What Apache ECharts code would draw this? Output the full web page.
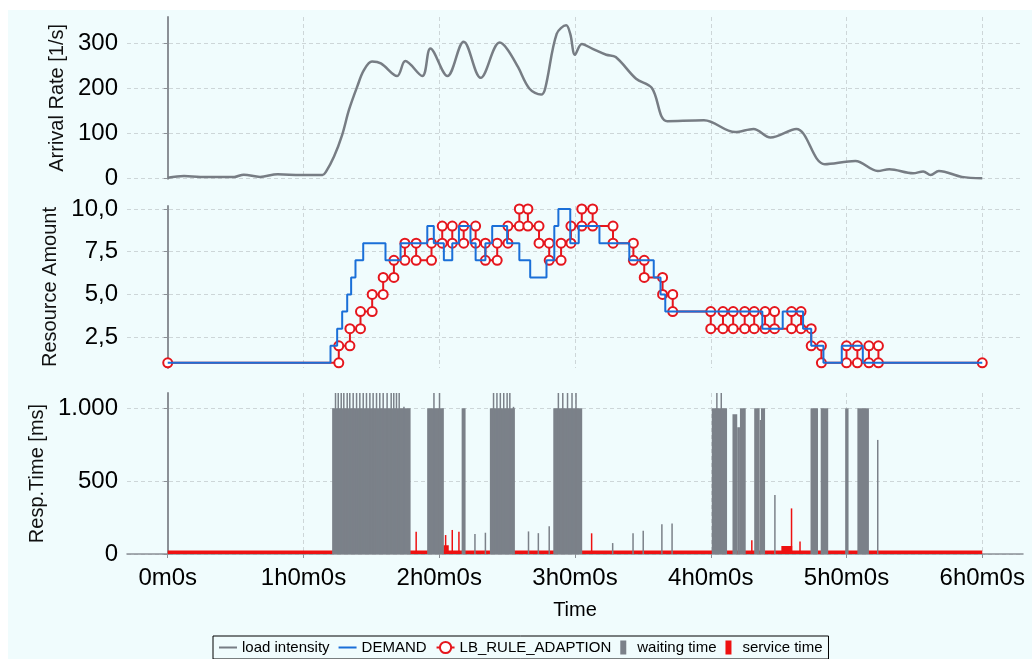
<!DOCTYPE html>
<html><head><meta charset="utf-8">
<script src="https://cdn.jsdelivr.net/npm/echarts@6/dist/echarts.min.js"></script>
<style>html,body{margin:0;padding:0;background:#fff;} #c{width:1032px;height:659px;}</style>
</head><body><div id="c"></div>
<script>
// ---- tick labels ----
const hourTicks = [0, 1, 2, 3, 4, 5, 6];
const arrivalTicks = [0, 100, 200, 300];
const resourceTicks = [2.5, 5, 7.5, 10];
const respTicks = [0, 500, 1000];

// ---- load intensity (hours, 1/s) ----
const loadTimes  = [0, 0.12, 0.24, 0.36, 0.49, 0.56, 0.68, 0.81, 0.98, 1.14, 1.165, 1.225, 1.285, 1.335, 1.395, 1.445, 1.505, 1.57, 1.69, 1.75, 1.875, 1.935, 2.06, 2.18, 2.305, 2.445, 2.50, 2.58, 2.665, 2.75, 2.78, 2.865, 2.935, 2.965, 3.0, 3.05, 3.13, 3.23, 3.30, 3.45, 3.565, 3.68, 3.95, 4.18, 4.315, 4.44, 4.63, 4.84, 5.065, 5.23, 5.315, 5.49, 5.565, 5.62, 5.68, 5.85, 6.0];
const loadValues = [2, 6, 4, 4, 4, 9, 4, 10, 8, 8, 15, 49, 97, 152, 203, 240, 259, 255, 227, 260, 227, 288, 227, 303, 223, 301, 287, 247, 199, 186, 199, 320, 339, 320, 274, 298, 287, 274, 269, 221, 201, 127, 129, 103, 110, 91, 110, 32, 39, 17, 21, 12, 16, 8, 17, 4, 1];

// ---- DEMAND (change time in hours, new amount) ----
const demandTimes  = [0, 1.199, 1.248, 1.285, 1.322, 1.351, 1.383, 1.44, 1.604, 1.715, 1.912, 1.96, 2.034, 2.096, 2.145, 2.23, 2.268, 2.34, 2.39, 2.5, 2.59, 2.67, 2.79, 2.8475, 2.8775, 2.965, 3.0275, 3.18, 3.4, 3.58, 3.63, 3.665, 4.38, 4.53, 4.68, 4.74, 4.83, 4.965, 5.12, 6.0];
const demandValues = [1, 2, 3, 4, 5, 6, 7, 8, 7, 8, 9, 8, 7, 8, 9, 8, 7, 8, 9, 8, 7, 6, 7, 9, 10, 8, 9, 8, 7, 6, 5, 4, 3, 4, 3, 2, 1, 2, 1, 1];

// ---- LB_RULE_ADAPTION (adaption time in hours, new amount) ----
const adaptTimes  = [0, 1.26, 1.342, 1.42, 1.506, 1.587, 1.666, 1.747, 1.83, 1.943, 2.022, 2.096, 2.18, 2.268, 2.34, 2.427, 2.506, 2.59, 2.653, 2.735, 2.81, 2.8975, 2.97, 3.05, 3.13, 3.28, 3.43, 3.51, 3.645, 3.72, 4.0, 4.09, 4.165, 4.25, 4.32, 4.40, 4.47, 4.595, 4.665, 4.74, 4.815, 5.0, 5.08, 5.165, 5.235];
const adaptValues = [1, 2, 3, 4, 5, 6, 7, 8, 7, 8, 9, 8, 9, 8, 7, 8, 9, 10, 9, 8, 7, 8, 9, 10, 9, 8, 7, 6, 5, 4, 3, 4, 3, 4, 3, 4, 3, 4, 3, 2, 1, 2, 1, 2, 1];
const adaptEnd = 6.0;

// ---- waiting time blocks (hours start, hours end, ms) ----
const waitStart  = [1.211, 1.911, 2.165, 2.373, 2.84, 4.0075, 4.16, 4.195, 4.215, 4.32, 4.36, 4.37, 4.735, 4.81, 4.99, 5.08];
const waitEnd    = [1.789, 2.034, 2.194, 2.557, 3.053, 4.12, 4.195, 4.215, 4.2575, 4.36, 4.37, 4.40, 4.79, 4.865, 5.015, 5.165];
const waitHeight = [1000, 1000, 1000, 1000, 1000, 1000, 960, 870, 1000, 1000, 920, 1000, 1000, 1000, 1000, 1000];
// single waiting-time samples (hours, ms)
const waitSpikeTimes  = [1.236, 1.256, 1.278, 1.297, 1.322, 1.341, 1.366, 1.391, 1.415, 1.44, 1.464, 1.489, 1.513, 1.538, 1.562, 1.587, 1.616, 1.646, 1.665, 1.685, 1.705, 1.74, 1.961, 2.002, 2.263, 2.34, 2.40, 2.425, 2.45, 2.475, 2.50, 2.52, 2.547, 2.6575, 2.73, 2.81, 2.8775, 2.91, 2.945, 2.978, 3.0075, 3.2775, 3.4275, 3.5025, 3.64, 3.715, 4.045, 4.0775, 4.4725, 5.23];
const waitSpikeValues = [1200, 1200, 1200, 1200, 1200, 1200, 1200, 1200, 1200, 1200, 1200, 1200, 1200, 1200, 1200, 1200, 1200, 1200, 1200, 1200, 1200, 1010, 1200, 1200, 137, 146, 1200, 1200, 1200, 1200, 1200, 1200, 1010, 155, 143, 190, 1200, 1200, 1200, 1200, 1200, 75, 142, 160, 205, 210, 1200, 1200, 405, 783];

// ---- service time (hours start, hours end, ms) ----
const serviceStart  = [0, 2.03, 4.52];
const serviceEnd    = [6.0, 2.07, 4.60];
const serviceHeight = [24, 60, 55];
const serviceSpikeTimes  = [1.83, 2.047, 2.096, 2.145, 3.1225, 4.3025, 4.595, 4.6575];
const serviceSpikeValues = [153, 130, 165, 153, 142, 95, 313, 85];

// ---- build series data ----
const loadData = loadTimes.map((t, i) => [t, loadValues[i]]);
const demandData = demandTimes.map((t, i) => [t, demandValues[i]]);
const adaptData = [];
adaptTimes.forEach((t, i) => {
  if (i > 0) adaptData.push([t, adaptValues[i - 1]]);
  adaptData.push([t, adaptValues[i]]);
});
adaptData.push([adaptEnd, adaptValues[adaptValues.length - 1]]);
const waitBlocks = waitStart.map((s, i) => [s, waitEnd[i], waitHeight[i]]);
const waitSpikes = waitSpikeTimes.map((t, i) => [t, waitSpikeValues[i]]);
const serviceBlocks = serviceStart.map((s, i) => [s, serviceEnd[i], serviceHeight[i]]);
const serviceSpikes = serviceSpikeTimes.map((t, i) => [t, serviceSpikeValues[i]]);

function clipToGrid(r, cs) {
  return echarts.graphic.clipRectByRect(r, {x: cs.x, y: cs.y, width: cs.width, height: cs.height});
}
function blockRender(params, api) {
  const a = api.coord([api.value(0), api.value(2)]);
  const b = api.coord([api.value(1), 0]);
  const r = clipToGrid({x: a[0], y: a[1], width: Math.max(b[0] - a[0], 1), height: b[1] - a[1]}, params.coordSys);
  return r && {type: 'rect', shape: r, style: api.style()};
}
function spikeRender(params, api) {
  const a = api.coord([api.value(0), api.value(1)]);
  const b = api.coord([api.value(0), 0]);
  const r = clipToGrid({x: a[0] - 0.75, y: a[1], width: 1.5, height: b[1] - a[1]}, params.coordSys);
  return r && {type: 'rect', shape: r, style: api.style()};
}

const FONT = 'Liberation Sans, Arial, sans-serif';
const GRIDC = '#cdd6d8';
const AXISC = '#8b9096';
const hourLabel = v => v === 0 ? '0m0s' : v + 'h0m0s';

function xAxisFor(idx, showLabels) {
  return {
    type: 'value', gridIndex: idx, min: -0.3, max: 6.3,
    axisLine: {show: showLabels, lineStyle: {color: AXISC, width: 1.5}},
    axisTick: {show: showLabels, customValues: hourTicks, length: 4, lineStyle: {color: AXISC}},
    axisLabel: {show: showLabels, customValues: hourTicks, formatter: hourLabel, fontSize: 24, color: '#000', fontFamily: FONT, margin: 12},
    splitLine: {show: true, lineStyle: {color: GRIDC, type: [4, 3], width: 1}},
    name: showLabels ? 'Time' : '', nameLocation: 'middle', nameGap: 46,
    nameTextStyle: {fontSize: 20, color: '#000', fontFamily: FONT}
  };
}
function yAxisFor(idx, min, max, ticks, fmt, name, gap) {
  return {
    type: 'value', gridIndex: idx, min: min, max: max,
    axisLine: {show: true, lineStyle: {color: AXISC, width: 2}},
    axisTick: {show: true, customValues: ticks, length: 4, lineStyle: {color: AXISC}},
    axisLabel: {customValues: ticks, formatter: fmt, fontSize: 24, color: '#000', fontFamily: FONT, margin: 9},
    splitLine: {show: true, lineStyle: {color: GRIDC, type: [4, 3], width: 1}},
    name: name, nameLocation: 'middle', nameGap: gap,
    nameTextStyle: {fontSize: 20, color: '#111', fontFamily: FONT}
  };
}

const LINE_ICON = 'path://M0,0h18v2h-18z';
const BAR_ICON = 'path://M0,0h6v14h-6z';

const chart = echarts.init(document.getElementById('c'), null, {renderer: 'canvas'});
chart.setOption({
  animation: false,
  backgroundColor: '#ffffff',
  graphic: [{type: 'rect', z: -100, silent: true, shape: {x: 8, y: 10, width: 1024, height: 649}, style: {fill: '#f0fcfd'}}],
  grid: [
    {left: 127, width: 896, top: 17, height: 161.7},
    {left: 127, width: 896, top: 206, height: 162},
    {left: 127, width: 896, top: 393, height: 161}
  ],
  xAxis: [xAxisFor(0, false), xAxisFor(1, false), xAxisFor(2, true)],
  yAxis: [
    yAxisFor(0, 0, 357.5, arrivalTicks, v => String(v), 'Arrival Rate [1/s]', 53),
    yAxisFor(1, 0.70, 10.175, resourceTicks, v => v.toFixed(1).replace('.', ','), 'Resource Amount', 60),
    yAxisFor(2, 0, 1105, respTicks, v => String(v).replace(/\B(?=(\d{3})+(?!\d))/g, '.'), 'Resp.Time [ms]', 78)
  ],
  legend: {
    left: 213, top: 636, padding: [4, 6], itemGap: 9, itemWidth: 18, itemHeight: 14,
    borderColor: '#000', borderWidth: 1, borderRadius: 0,
    textStyle: {fontSize: 15, color: '#000', fontFamily: FONT},
    data: [
      {name: 'load intensity', icon: LINE_ICON},
      {name: 'DEMAND', icon: LINE_ICON},
      {name: 'LB_RULE_ADAPTION'},
      {name: 'waiting time', icon: BAR_ICON},
      {name: 'service time', icon: BAR_ICON}
    ]
  },
  series: [
    {name: 'load intensity', type: 'line', xAxisIndex: 0, yAxisIndex: 0, data: loadData,
     smooth: 0.35, showSymbol: false, symbol: 'none', lineStyle: {color: '#777d84', width: 2.5}, itemStyle: {color: '#777d84'}},
    {name: 'LB_RULE_ADAPTION', type: 'line', xAxisIndex: 1, yAxisIndex: 1, data: adaptData,
     symbol: 'emptyCircle', symbolSize: 9, showSymbol: true, lineStyle: {color: '#e5161d', width: 2},
     itemStyle: {color: '#e5161d', borderWidth: 2, borderColor: '#e5161d'}, z: 3},
    {name: 'DEMAND', type: 'line', xAxisIndex: 1, yAxisIndex: 1, data: demandData, step: 'end',
     showSymbol: false, symbol: 'none', lineStyle: {color: '#1a6fd8', width: 2}, itemStyle: {color: '#1a6fd8'}, z: 4},
    {name: 'service time', type: 'custom', xAxisIndex: 2, yAxisIndex: 2, data: serviceBlocks,
     encode: {x: [0, 1], y: 2}, renderItem: blockRender, itemStyle: {color: '#ee1111'}, z: 2},
    {name: 'waiting time', type: 'custom', xAxisIndex: 2, yAxisIndex: 2, data: waitBlocks,
     encode: {x: [0, 1], y: 2}, renderItem: blockRender, itemStyle: {color: '#7b8189'}, z: 3},
    {name: 'waiting time', type: 'custom', xAxisIndex: 2, yAxisIndex: 2, data: waitSpikes,
     encode: {x: 0, y: 1}, renderItem: spikeRender, itemStyle: {color: '#7b8189'}, z: 3},
    {name: 'service time', type: 'custom', xAxisIndex: 2, yAxisIndex: 2, data: serviceSpikes,
     encode: {x: 0, y: 1}, renderItem: spikeRender, itemStyle: {color: '#ee1111'}, z: 4}
  ]
});
</script></body></html>
